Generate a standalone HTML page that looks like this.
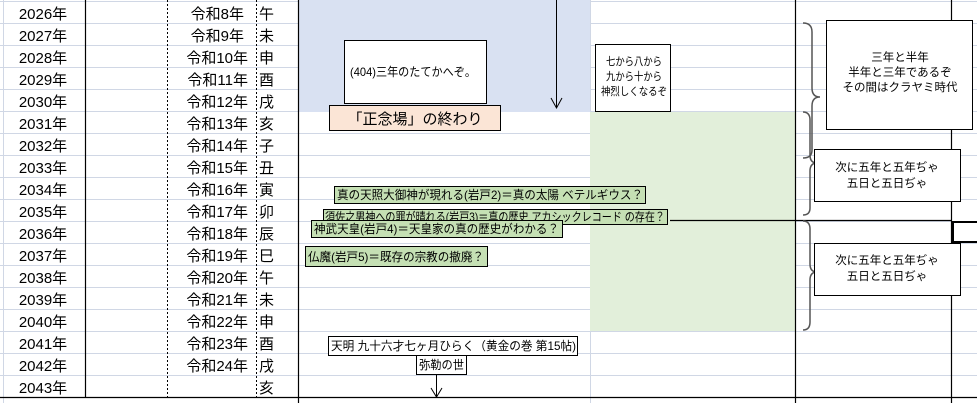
<!DOCTYPE html>
<html><head><meta charset="utf-8"><style>
html,body{margin:0;padding:0;background:#fff;}
svg{display:block;}
text{font-family:"Liberation Sans","Noto Sans CJK JP",sans-serif;}
</style></head><body>
<svg width="977" height="403" viewBox="0 0 977 403" xmlns="http://www.w3.org/2000/svg">
<rect x="0" y="0" width="977" height="403" fill="#fff"/>
<g stroke="#d0d7e5" stroke-width="1">
<line x1="0" y1="23.5" x2="977" y2="23.5"/><line x1="0" y1="45.5" x2="977" y2="45.5"/>
<line x1="0" y1="67.5" x2="977" y2="67.5"/><line x1="0" y1="89.5" x2="977" y2="89.5"/>
<line x1="0" y1="111.5" x2="977" y2="111.5"/><line x1="0" y1="133.5" x2="977" y2="133.5"/>
<line x1="0" y1="155.5" x2="977" y2="155.5"/><line x1="0" y1="177.5" x2="977" y2="177.5"/>
<line x1="0" y1="199.5" x2="977" y2="199.5"/><line x1="0" y1="221.5" x2="977" y2="221.5"/>
<line x1="0" y1="243.5" x2="977" y2="243.5"/><line x1="0" y1="265.5" x2="977" y2="265.5"/>
<line x1="0" y1="287.5" x2="977" y2="287.5"/><line x1="0" y1="309.5" x2="977" y2="309.5"/>
<line x1="0" y1="331.5" x2="977" y2="331.5"/><line x1="0" y1="353.5" x2="977" y2="353.5"/>
<line x1="0" y1="375.5" x2="977" y2="375.5"/><line x1="0" y1="1.5" x2="977" y2="1.5"/>
<line x1="590.5" y1="0" x2="590.5" y2="403"/><line x1="3.5" y1="0" x2="3.5" y2="403"/>
</g>
<rect x="299" y="0" width="291" height="112" fill="#d9e1f2"/>
<rect x="590" y="112" width="205" height="219" fill="#e2efda"/>
<g stroke="#000" stroke-width="1.2">
<line x1="85.5" y1="0" x2="85.5" y2="397"/>
<line x1="298.5" y1="0" x2="298.5" y2="403"/>
<line x1="795.5" y1="0" x2="795.5" y2="403"/>
<line x1="951.5" y1="0" x2="951.5" y2="403"/>
<line x1="0" y1="397.5" x2="977" y2="397.5"/>
<line x1="670" y1="220.5" x2="951" y2="220.5"/>
</g>
<g stroke="#000" stroke-width="1" stroke-dasharray="2,2">
<line x1="167.5" y1="0" x2="167.5" y2="397"/>
<line x1="256.5" y1="0" x2="256.5" y2="397"/>
</g>
<rect x="953" y="222" width="26" height="20" fill="#fff" stroke="#000" stroke-width="2"/>
<g font-size="15" fill="#000">
<g text-anchor="middle">
<text x="43" y="19">2026年</text><text x="43" y="41">2027年</text><text x="43" y="63">2028年</text>
<text x="43" y="85">2029年</text><text x="43" y="107">2030年</text><text x="43" y="129">2031年</text>
<text x="43" y="151">2032年</text><text x="43" y="173">2033年</text><text x="43" y="195">2034年</text>
<text x="43" y="217">2035年</text><text x="43" y="239">2036年</text><text x="43" y="261">2037年</text>
<text x="43" y="283">2038年</text><text x="43" y="305">2039年</text><text x="43" y="327">2040年</text>
<text x="43" y="349">2041年</text><text x="43" y="371">2042年</text><text x="43" y="393">2043年</text>
</g>
<g text-anchor="end">
<text x="244" y="19">令和8年</text><text x="244" y="41">令和9年</text><text x="248" y="63">令和10年</text>
<text x="248" y="85">令和11年</text><text x="248" y="107">令和12年</text><text x="248" y="129">令和13年</text>
<text x="248" y="151">令和14年</text><text x="248" y="173">令和15年</text><text x="248" y="195">令和16年</text>
<text x="248" y="217">令和17年</text><text x="248" y="239">令和18年</text><text x="248" y="261">令和19年</text>
<text x="248" y="283">令和20年</text><text x="248" y="305">令和21年</text><text x="248" y="327">令和22年</text>
<text x="248" y="349">令和23年</text><text x="248" y="371">令和24年</text>
</g>
<g>
<text x="259" y="19">午</text><text x="259" y="41">未</text><text x="259" y="63">申</text>
<text x="259" y="85">酉</text><text x="259" y="107">戌</text><text x="259" y="129">亥</text>
<text x="259" y="151">子</text><text x="259" y="173">丑</text><text x="259" y="195">寅</text>
<text x="259" y="217">卯</text><text x="259" y="239">辰</text><text x="259" y="261">巳</text>
<text x="259" y="283">午</text><text x="259" y="305">未</text><text x="259" y="327">申</text>
<text x="259" y="349">酉</text><text x="259" y="371">戌</text><text x="259" y="393">亥</text>
</g>
</g>
<rect x="344.5" y="40.5" width="142" height="63" fill="#fff" stroke="#000"/>
<text x="350" y="76" font-size="12" textLength="126" lengthAdjust="spacingAndGlyphs">(404)三年のたてかへぞ。</text>
<rect x="329.5" y="105.5" width="171" height="25" fill="#fbe5d6" stroke="#000"/>
<text x="415" y="124" font-size="15" text-anchor="middle">「正念場」の終わり</text>
<line x1="556.5" y1="0" x2="556.5" y2="108" stroke="#000"/>
<path d="M551 98 L556.5 108 L562 98" fill="none" stroke="#000"/>
<rect x="595.5" y="44.5" width="75" height="67" fill="#fff" stroke="#000"/>
<g font-size="11"><text x="606" y="65" textLength="56" lengthAdjust="spacingAndGlyphs">七から八から</text><text x="606" y="80" textLength="56" lengthAdjust="spacingAndGlyphs">九から十から</text><text x="601" y="95" textLength="66" lengthAdjust="spacingAndGlyphs">神烈しくなるぞ</text></g>
<g font-size="12">
<rect x="334.5" y="186.5" width="311" height="17" fill="#c5e0b4" stroke="#000"/>
<text x="337" y="199" textLength="306" lengthAdjust="spacingAndGlyphs">真の天照大御神が現れる(岩戸2)＝真の太陽 ベテルギウス？</text>
<rect x="323.5" y="209.5" width="344" height="15" fill="#c5e0b4" stroke="#000"/>
<text x="325" y="221" textLength="340" lengthAdjust="spacingAndGlyphs">須佐之男神への罪が晴れる(岩戸3)＝真の歴史 アカシックレコード の存在？</text>
<rect x="311.5" y="220.5" width="251" height="17" fill="#c5e0b4" stroke="#000"/>
<text x="314" y="233" textLength="245" lengthAdjust="spacingAndGlyphs">神武天皇(岩戸4)＝天皇家の真の歴史がわかる？</text>
<rect x="305.5" y="246.5" width="182" height="20" fill="#c5e0b4" stroke="#000"/>
<text x="308" y="261" textLength="176" lengthAdjust="spacingAndGlyphs">仏魔(岩戸5)＝既存の宗教の撤廃？</text>
</g>
<rect x="328.5" y="336.5" width="249" height="19" fill="#fff" stroke="#000"/>
<text x="331" y="350" font-size="12" textLength="245" lengthAdjust="spacingAndGlyphs">天明 九十六才七ヶ月ひらく（黄金の巻 第15帖)</text>
<rect x="416.5" y="355.5" width="50" height="19" fill="#fff" stroke="#000"/>
<text x="419" y="369" font-size="12" textLength="45" lengthAdjust="spacingAndGlyphs">弥勒の世</text>
<line x1="436.5" y1="374" x2="436.5" y2="397" stroke="#000"/>
<path d="M431 388 L436.5 397 L442 388" fill="none" stroke="#000"/>
<g fill="none" stroke="#555" stroke-width="1.5">
<path d="M803 23 Q812 23 812 32 L812 88 Q812 97 820 97 Q812 97 812 106 L812 150 Q812 158 803 158"/>
<path d="M803 112 Q810 112 810 120 L810 155 Q810 163 817 163 Q810 163 810 171 L810 208 Q810 215 803 215"/>
<path d="M803 221 Q810 221 810 229 L810 264 Q810 272 817 272 Q810 272 810 280 L810 322 Q810 330 803 330"/>
</g>
<rect x="826.5" y="20.5" width="146" height="109" fill="#fff" stroke="#000"/>
<g font-size="11.5" text-anchor="middle"><text x="900" y="61">三年と半年</text><text x="900" y="76">半年と三年であるぞ</text><text x="900" y="91">その間はクラヤミ時代</text></g>
<rect x="814.5" y="149.5" width="146" height="52" fill="#fff" stroke="#000"/>
<g font-size="11.5" text-anchor="middle"><text x="887" y="171">次に五年と五年ぢゃ</text><text x="887" y="187">五日と五日ぢゃ</text></g>
<rect x="814.5" y="243.5" width="146" height="52" fill="#fff" stroke="#000"/>
<g font-size="11.5" text-anchor="middle"><text x="887" y="264">次に五年と五年ぢゃ</text><text x="887" y="280">五日と五日ぢゃ</text></g>
</svg>
</body></html>
